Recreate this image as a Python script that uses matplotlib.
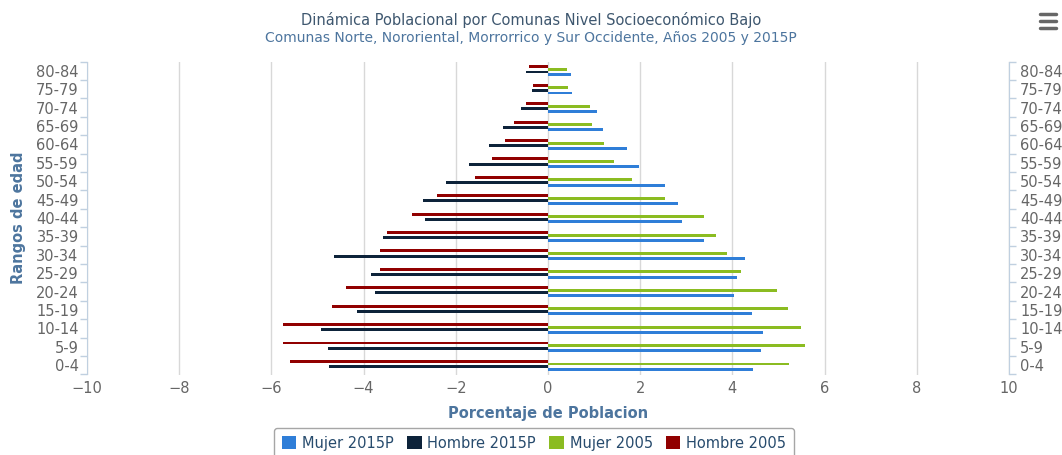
#!/usr/bin/env python3
"""Population pyramid, Comunas nivel socioeconomico bajo, 2005 vs 2015P."""

import matplotlib

matplotlib.use("Agg")
import matplotlib.pyplot as plt
import numpy as np
from matplotlib.lines import Line2D
from matplotlib.patches import Patch

# age groups, bottom to top
age_groups = [
    "0-4", "5-9", "10-14", "15-19", "20-24", "25-29", "30-34", "35-39", "40-44",
    "45-49", "50-54", "55-59", "60-64", "65-69", "70-74", "75-79", "80-84",
]
hombre_2005 = [5.59, 5.75, 5.75, 4.69, 4.38, 3.64, 3.64, 3.49, 2.95,
               2.41, 1.59, 1.21, 0.93, 0.74, 0.48, 0.32, 0.42]
hombre_2015p = [4.74, 4.77, 4.93, 4.15, 3.75, 3.85, 4.65, 3.59, 2.66,
                2.72, 2.22, 1.72, 1.27, 0.97, 0.58, 0.34, 0.48]
mujer_2005 = [5.23, 5.58, 5.49, 5.20, 4.97, 4.19, 3.88, 3.64, 3.39,
              2.53, 1.82, 1.44, 1.22, 0.96, 0.92, 0.44, 0.41]
mujer_2015p = [4.45, 4.61, 4.66, 4.43, 4.04, 4.09, 4.27, 3.39, 2.90,
               2.82, 2.53, 1.98, 1.72, 1.19, 1.06, 0.52, 0.49]
x_ticks = [-10, -8, -6, -4, -2, 0, 2, 4, 6, 8, 10]

BLUE = "#2f7ed8"
NAVY = "#0d233a"
GREEN = "#8bbc21"
RED = "#910000"
AXIS_BLUE = "#c0d0e0"
LABEL_BLUE = "#4d759e"

fig = plt.figure(figsize=(10.62, 4.55), dpi=100)
ax = fig.add_axes([87 / 1062, 1 - 374.5 / 455, (1009 - 87) / 1062, (374.5 - 61.5) / 455])

y = np.arange(len(age_groups))
h = 0.16
series = [
    (hombre_2005, RED, 0.21, -1),
    (mujer_2005, GREEN, 0.07, 1),
    (hombre_2015p, NAVY, -0.07, -1),
    (mujer_2015p, BLUE, -0.21, 1),
]
for vals, color, off, sign in series:
    ax.barh(y + off, sign * np.asarray(vals), height=h, color=color,
            linewidth=0, zorder=3)

ax.set_xlim(-10, 10)
ax.set_ylim(-0.5, len(age_groups) - 0.5)
ax.set_xticks(x_ticks)
ax.set_xticklabels([str(t).replace("-", "\u2212") for t in x_ticks])
ax.grid(axis="x", color="#d8d8d8", linewidth=1, zorder=0)
ax.set_axisbelow(True)

ax.set_yticks(y)
ax.set_yticklabels(age_groups)
ax.set_yticks(np.arange(-0.5, len(age_groups)), minor=True)
ax.tick_params(axis="y", which="major", length=0, labelsize=10.5,
               labelcolor="#666666", pad=6)
ax.tick_params(axis="y", which="minor", length=5, color=AXIS_BLUE, width=1)
ax.tick_params(axis="x", length=0, labelsize=10.5, labelcolor="#666666", pad=5)

for side in ("top", "bottom"):
    ax.spines[side].set_visible(False)
for side in ("left", "right"):
    ax.spines[side].set_color(AXIS_BLUE)

ax2 = ax.twinx()
ax2.set_ylim(ax.get_ylim())
ax2.set_yticks(y)
ax2.set_yticklabels(age_groups)
ax2.set_yticks(np.arange(-0.5, len(age_groups)), minor=True)
ax2.tick_params(axis="y", which="major", length=0, labelsize=10.5,
                labelcolor="#666666", pad=8)
ax2.tick_params(axis="y", which="minor", length=5, color=AXIS_BLUE, width=1)
for side in ("top", "bottom", "left"):
    ax2.spines[side].set_visible(False)
ax2.spines["right"].set_color(AXIS_BLUE)

ax.set_xlabel("Porcentaje de Poblacion", color=LABEL_BLUE, fontsize=10.5,
              fontweight="bold", labelpad=7)
ax.set_ylabel("Rangos de edad", color=LABEL_BLUE, fontsize=10.5,
              fontweight="bold", labelpad=7)

fig.text(0.5, 1 - 20 / 455, "Dinámica Poblacional por Comunas Nivel Socioeconómico Bajo",
         ha="center", va="center", fontsize=10.5, color="#3e576f")
fig.text(0.5, 1 - 38 / 455, "Comunas Norte, Nororiental, Morrorrico y Sur Occidente, Años 2005 y 2015P",
         ha="center", va="center", fontsize=10, color="#4d759e")

# menu icon
for yy in (14, 21, 28):
    fig.add_artist(Line2D([1040 / 1062, 1056 / 1062], [1 - yy / 455] * 2,
                          color="#666666", linewidth=2.5, solid_capstyle="round"))

handles = [
    Patch(facecolor=BLUE, label="Mujer 2015P"),
    Patch(facecolor=NAVY, label="Hombre 2015P"),
    Patch(facecolor=GREEN, label="Mujer 2005"),
    Patch(facecolor=RED, label="Hombre 2005"),
]
leg = fig.legend(handles=handles, loc="upper center", bbox_to_anchor=(534 / 1062, 1 - 421 / 455),
                 ncol=4, frameon=True, fancybox=True, edgecolor="#909090",
                 fontsize=10.5, handlelength=1.0, handleheight=1.0, handletextpad=0.4,
                 columnspacing=0.9, borderpad=0.5)
for text in leg.get_texts():
    text.set_color("#274b6d")

fig.savefig("out.png", dpi=100)
